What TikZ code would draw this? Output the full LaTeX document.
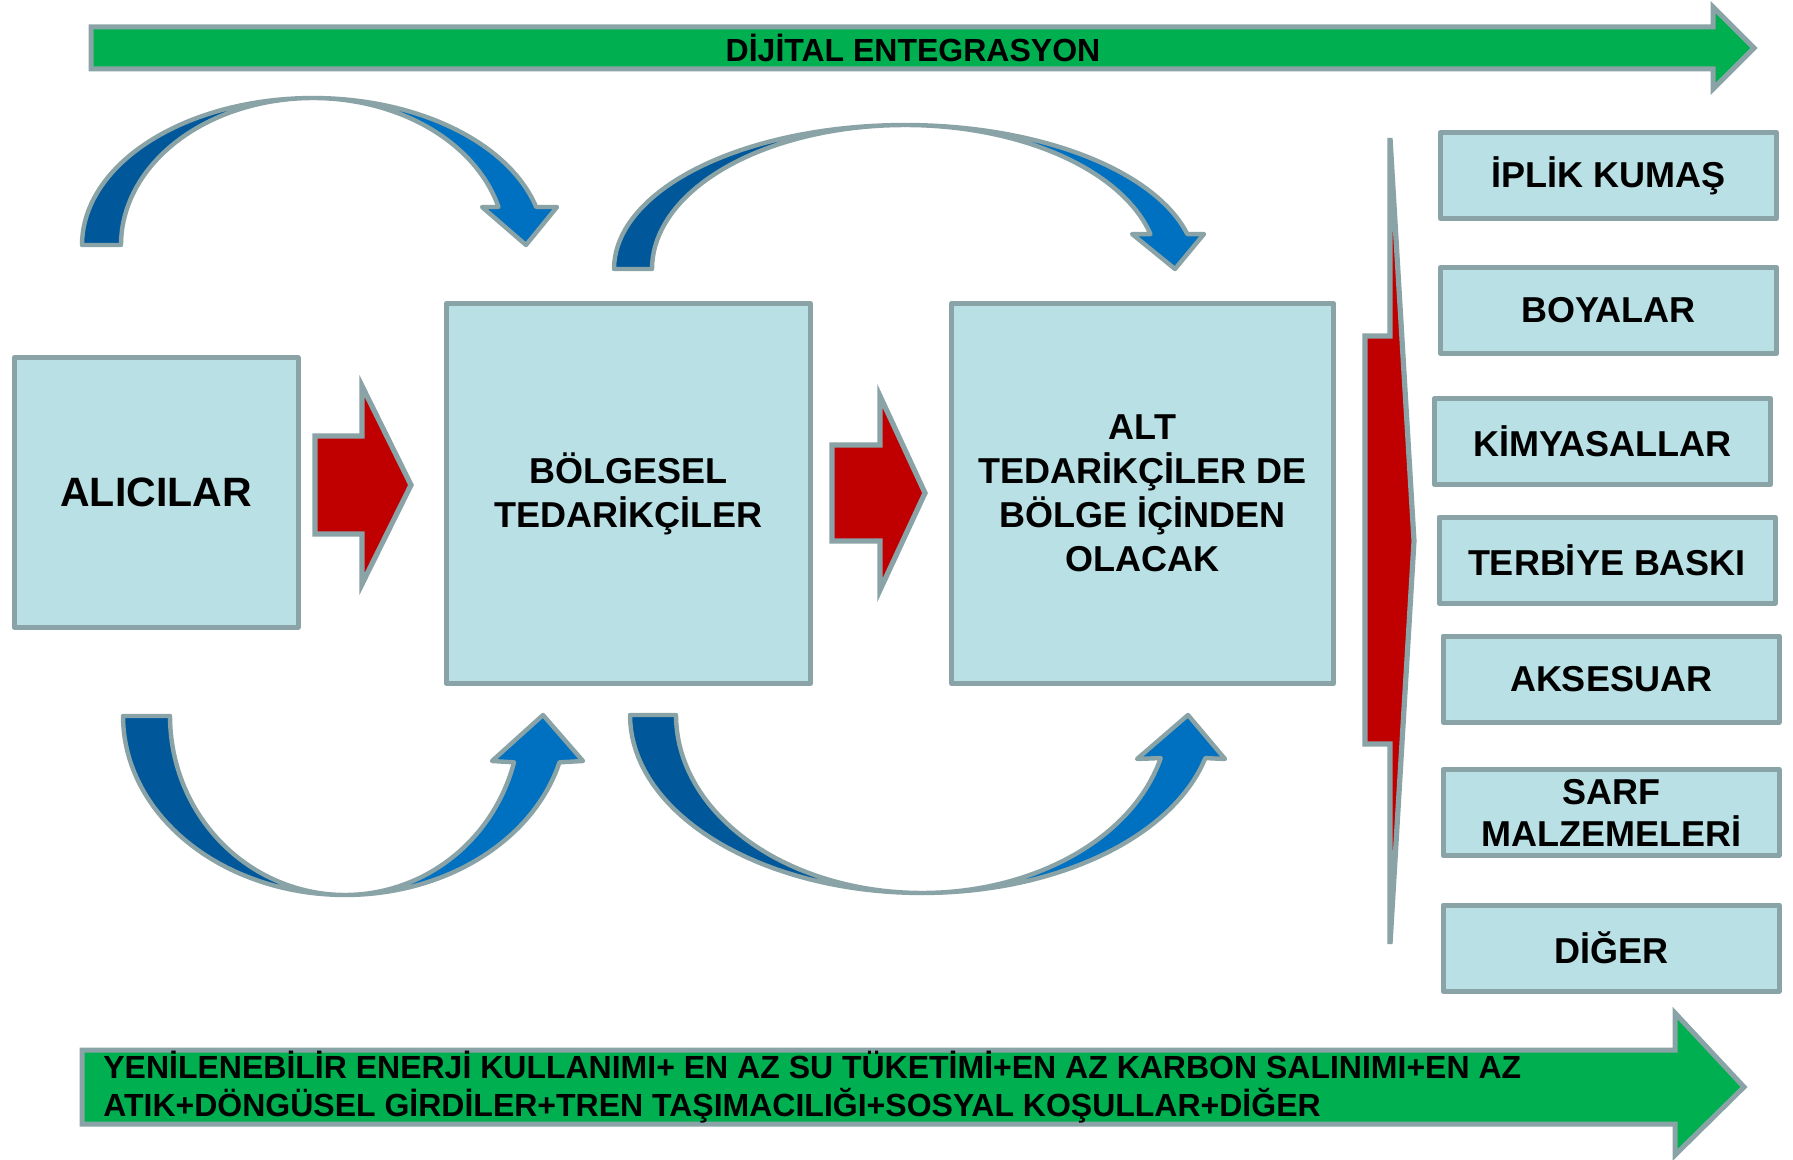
\documentclass[tikz,border=0pt]{standalone}
\usepackage{fontspec}
\setmainfont{Liberation Sans}
\usepackage{tikz}

\definecolor{edgegray}{RGB}{138,163,166}
\definecolor{boxcyan}{RGB}{185,224,228}
\definecolor{arrowred}{RGB}{192,0,0}
\definecolor{arrowgreen}{RGB}{0,176,80}
\definecolor{blueback}{RGB}{0,88,155}
\definecolor{bluefront}{RGB}{0,112,192}

\tikzset{
  box/.style={draw=edgegray, fill=boxcyan, line width=2.5pt, line join=round,
    align=center, inner sep=0pt, font=\bfseries\fontsize{18}{22}\selectfont},
  sidebox/.style={box, minimum width=168pt, minimum height=43pt},
  redarrow/.style={draw=edgegray, fill=arrowred, line width=2.6pt, line join=miter},
  greenarrow/.style={draw=edgegray, fill=arrowgreen, line width=2.5pt, line join=miter},
  backband/.style={draw=edgegray, fill=blueback, line width=2.2pt, line join=round},
  frontband/.style={draw=edgegray, fill=bluefront, line width=2.2pt, line join=round}
}

\begin{document}
\begin{tikzpicture}[x=0.5pt, y=-0.5pt, samples=40]
	\useasboundingbox (0,0) rectangle (1793,1160);

	% Top green arrow
	\draw[greenarrow] (91,27) -- (1713,27) -- (1713,7) -- (1754,48) -- (1713,89) -- (1713,69) -- (91,69) -- cycle;
	\node[font=\bfseries\fontsize{16}{19}\selectfont] (dijital) at (913,48) {DİJİTAL ENTEGRASYON};

	% Bottom green arrow
	\draw[greenarrow] (82,1050) -- (1675,1050) -- (1675,1013) -- (1744,1087) -- (1675,1155) -- (1675,1124) -- (82,1124) -- cycle;
	\node[anchor=west, align=left, inner sep=0pt, font=\bfseries\fontsize{16}{19}\selectfont] (kosullar) at (103,1087)
		{YENİLENEBİLİR ENERJİ KULLANIMI+ EN AZ SU TÜKETİMİ+EN AZ KARBON SALINIMI+EN AZ\\
		 ATIK+DÖNGÜSEL GİRDİLER+TREN TAŞIMACILIĞI+SOSYAL KOŞULLAR+DİĞER};

	% Main boxes
	\node[box, minimum width=142pt, minimum height=134.5pt, font=\bfseries\fontsize{20.5}{24}\selectfont] (alicilar) at (156,492.5) {ALICILAR};
	\node[box, minimum width=182pt, minimum height=190pt] (bolgesel) at (628.5,493.5) {BÖLGESEL\\TEDARİKÇİLER};
	\node[box, minimum width=191pt, minimum height=190pt] (altted) at (1142.5,493.5) {ALT\\TEDARİKÇİLER DE\\BÖLGE İÇİNDEN\\OLACAK};

	% Red arrows between boxes
	\draw[redarrow] (315,436) -- (362,436) -- (362,386) -- (411,485) -- (362,584) -- (362,534) -- (315,534) -- cycle;
	\draw[redarrow] (832,445) -- (880,445) -- (880,396) -- (925,493) -- (880,590) -- (880,541) -- (832,541) -- cycle;

	% Big red arrow to the right column
	\draw[redarrow] (1365,336) -- (1390,336) -- (1390,138) -- (1414,541) -- (1390,944) -- (1390,744) -- (1365,744) -- cycle;

	% Right column boxes
	\node[sidebox] (iplik) at (1608.5,175.5) {İPLİK KUMAŞ};
	\node[sidebox] (boyalar) at (1608.5,310.5) {BOYALAR};
	\node[sidebox] (kimya) at (1602.5,441.5) {KİMYASALLAR};
	\node[sidebox] (terbiye) at (1607,560) {TERBİYE BASKI};
	\node[sidebox] (aksesuar) at (1611,679) {AKSESUAR};
	\node[sidebox, font=\bfseries\fontsize{18}{21}\selectfont] (sarf) at (1611,812.5) {SARF\\MALZEMELERİ};
	\node[sidebox] (diger) at (1611,948) {DİĞER};

	% Curved arrow, top left
	\filldraw[backband] plot[domain=180:90] ({313+231*cos(\x)},{245-147*sin(\x)})
		-- plot[domain=90:180] ({313+192*cos(\x)},{245-147*sin(\x)}) -- cycle;
	\filldraw[frontband] plot[domain=90:15] ({313+231*cos(\x)},{245-147*sin(\x)})
		-- (557,207) -- (526,245) -- (482,207)
		-- plot[domain=15:90] ({313+192*cos(\x)},{245-147*sin(\x)}) -- cycle;

	% Curved arrow, top middle
	\filldraw[backband] plot[domain=180:90] ({905+291*cos(\x)},{269-144*sin(\x)})
		-- plot[domain=90:180] ({905+253*cos(\x)},{269-144*sin(\x)}) -- cycle;
	\filldraw[frontband] plot[domain=90:14] ({905+291*cos(\x)},{269-144*sin(\x)})
		-- (1204,234) -- (1175,269) -- (1132,234)
		-- plot[domain=14:90] ({905+253*cos(\x)},{269-144*sin(\x)}) -- cycle;

	% Curved arrow, bottom left
	\filldraw[backband] plot[domain=180:90] ({345+222*cos(\x)},{716+179*sin(\x)})
		-- plot[domain=90:180] ({345+175*cos(\x)},{716+179*sin(\x)}) -- cycle;
	\filldraw[frontband] plot[domain=90:15] ({345+222*cos(\x)},{716+179*sin(\x)})
		-- (583,761) -- (543,715) -- (492,761)
		-- plot[domain=15:90] ({345+175*cos(\x)},{716+179*sin(\x)}) -- cycle;

	% Curved arrow, bottom middle
	\filldraw[backband] plot[domain=180:90] ({922+292*cos(\x)},{715+178*sin(\x)})
		-- plot[domain=90:180] ({922+246*cos(\x)},{715+178*sin(\x)}) -- cycle;
	\filldraw[frontband] plot[domain=90:14] ({922+292*cos(\x)},{715+178*sin(\x)})
		-- (1225,759) -- (1188,715) -- (1137,759)
		-- plot[domain=14:90] ({922+246*cos(\x)},{715+178*sin(\x)}) -- cycle;

\end{tikzpicture}
\end{document}
